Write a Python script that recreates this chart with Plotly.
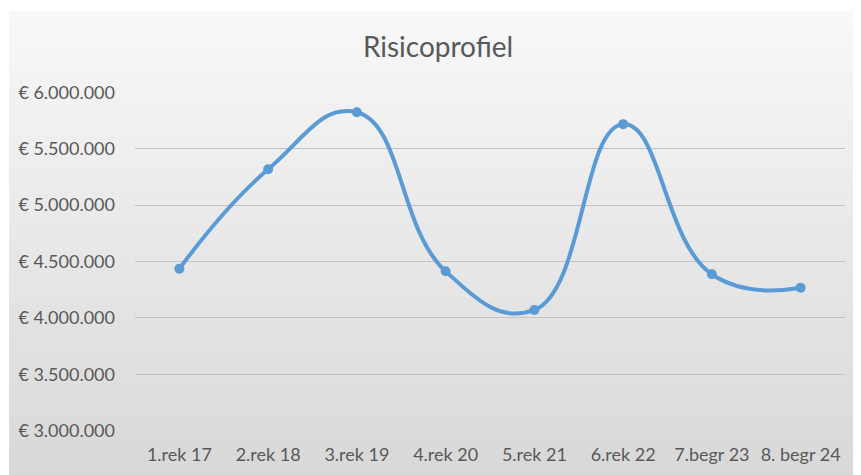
import plotly.graph_objects as go

categories = ["1.rek 17", "2.rek 18", "3.rek 19", "4.rek 20", "5.rek 21", "6.rek 22", "7.begr 23", "8. begr 24"]
values = [4436000, 5318000, 5824000, 4413000, 4070000, 5718000, 4387000, 4268000]
y_ticks = [3000000, 3500000, 4000000, 4500000, 5000000, 5500000, 6000000]
y_tick_labels = ["€ 3.000.000", "€ 3.500.000", "€ 4.000.000", "€ 4.500.000",
                 "€ 5.000.000", "€ 5.500.000", "€ 6.000.000"]
title_text = "Risicoprofiel"

# page body has an 8px margin, so figure coords = page coords - 8
OFF = 8
W, H = 861, 475
L, R, T, B = 127, 24, 84, 52
pw, ph = W - L - R, H - T - B

def px_x(px):
    return (px - L) / pw

def px_y(py):
    return (H - B - py) / ph

fig = go.Figure()
fig.add_trace(go.Scatter(
    x=categories, y=values, mode="lines+markers",
    line=dict(color="#5B9BD5", width=4, shape="spline", smoothing=1.3),
    marker=dict(color="#5B9BD5", size=10),
    cliponaxis=False, showlegend=False, hoverinfo="x+y",
))

# gradient background built from thin horizontal strips
shapes = []
top_px, bot_px, left_px = 11 - OFF, H - OFF, 9 - OFF
n = 60
c0, c1 = 0xF8, 0xD8
for i in range(n):
    y0 = top_px + (bot_px - top_px) * i / n
    y1 = top_px + (bot_px - top_px) * (i + 1) / n + 0.6
    c = round(c0 + (c1 - c0) * (i + 0.5) / n)
    col = f"rgb({c},{c},{c})"
    shapes.append(dict(type="rect", xref="paper", yref="paper", layer="below",
                       x0=px_x(left_px), x1=px_x(W + 2), y0=px_y(min(y1, H)), y1=px_y(y0),
                       line=dict(width=0), fillcolor=col))

eps = 3000
fig.update_layout(
    width=W, height=H,
    margin=dict(l=L, r=R, t=T, b=B, autoexpand=False),
    paper_bgcolor="white", plot_bgcolor="rgba(0,0,0,0)",
    shapes=shapes,
    title=dict(text=title_text, x=430 / W, xanchor="center", y=1 - 39 / H, yanchor="middle",
               font=dict(family="Lato", size=28, color="#595959")),
    font=dict(family="Lato", size=18, color="#595959"),
    xaxis=dict(type="category", range=[-0.5, len(categories) - 0.5], showgrid=False,
               showline=False, zeroline=False, ticks="", ticklabelstandoff=11,
               tickfont=dict(family="Lato", size=18, color="#595959")),
    yaxis=dict(range=[3000000 - eps, 6000000 + eps], tickvals=y_ticks, ticktext=y_tick_labels,
               showgrid=True, gridcolor="#c2c2c2", gridwidth=1, zeroline=False, showline=False,
               ticks="", ticklabelstandoff=19,
               tickfont=dict(family="Lato", size=18, color="#595959")),
)

fig.write_html("out.html")
